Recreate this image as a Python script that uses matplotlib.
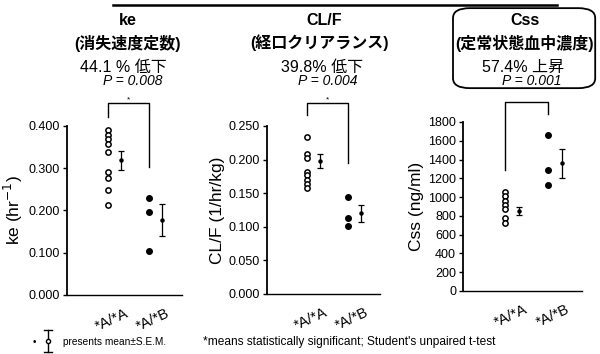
import matplotlib
matplotlib.use("Agg")
import matplotlib.pyplot as plt
from matplotlib.patches import FancyBboxPatch
from matplotlib.lines import Line2D

plt.rcParams['font.family'] = ['Liberation Sans', 'Noto Sans CJK JP', 'DejaVu Sans']

# ---- data ----
groups = ["*A/*A", "*A/*B"]

ke_AA = [0.391, 0.379, 0.369, 0.357, 0.339, 0.292, 0.276, 0.249, 0.213]
ke_AB = [0.230, 0.197, 0.104]
ke_mean = [0.319, 0.177]
ke_sem = [0.022, 0.038]

cl_AA = [0.234, 0.209, 0.202, 0.182, 0.177, 0.170, 0.163, 0.158]
cl_AB = [0.144, 0.113, 0.101]
cl_mean = [0.198, 0.120]
cl_sem = [0.011, 0.013]

css_AA = [1058, 1012, 961, 916, 870, 774, 721]
css_AB = [1658, 1291, 1131]
css_mean = [852, 1358]
css_sem = [45, 158]

titles = ["ke", "CL/F", "Css"]
subtitles = ["(消失速度定数)", "(経口クリアランス)", "(定常状態血中濃度)"]
changes = ["44.1 % 低下", "39.8% 低下", "57.4% 上昇"]
pvals = ["P = 0.008", "P = 0.004", "P = 0.001"]
ylabels = ["ke (hr$^{-1}$)", "CL/F (1/hr/kg)", "Css (ng/ml)"]
yticks = [[0.0, 0.1, 0.2, 0.3, 0.4],
          [0.0, 0.05, 0.10, 0.15, 0.20, 0.25],
          [0, 200, 400, 600, 800, 1000, 1200, 1400, 1600, 1800]]
yfmt = ["{:.3f}", "{:.3f}", "{:d}"]
# significance bracket: top, left-leg end, right-leg end (data units)
brackets = [(0.454, 0.421, 0.303), (0.284, 0.266, 0.195), (2013, 1289, 1885)]

panels = [(ke_AA, ke_AB, ke_mean, ke_sem),
          (cl_AA, cl_AB, cl_mean, cl_sem),
          (css_AA, css_AB, css_mean, css_sem)]

# ---- layout ----
fig = plt.figure(figsize=(6.0, 3.54), dpi=100)
ax_rects = [(0.1117, 0.1667, 0.1916, 0.4774),
            (0.4450, 0.1695, 0.1883, 0.4746),
            (0.7717, 0.1780, 0.1983, 0.4774)]
title_x = [0.213, 0.540, 0.875]
sub_x = [0.213, 0.532, 0.875]
chg_x = [0.205, 0.537, 0.872]
p_x = [0.222, 0.547, 0.887]
pos = [1.07, 2.14]
moff = 0.35

for i, (aa, ab, mean, sem) in enumerate(panels):
    ax = fig.add_axes(ax_rects[i])
    ax.plot([pos[0]] * len(aa), aa, 'o', mfc='white', mec='black', ms=3.8, mew=1.1, clip_on=False)
    ax.plot([pos[1]] * len(ab), ab, 'o', mfc='black', mec='black', ms=4.0, clip_on=False)
    ax.errorbar([pos[0] + moff, pos[1] + moff], mean, yerr=sem, fmt='o', color='black',
                ms=2.2, capsize=2.5, elinewidth=0.9, capthick=0.9, clip_on=False)
    ax.set_xlim(0, 3)
    ax.set_ylim(yticks[i][0], yticks[i][-1])
    ax.set_yticks(yticks[i])
    ax.set_yticklabels([yfmt[i].format(v) for v in yticks[i]], fontsize=9)
    ax.set_xticks([pos[0] + 0.45, pos[1] + 0.45])
    ax.set_xticklabels(groups, rotation=25, ha='right', rotation_mode='anchor', fontsize=10.5)
    ax.tick_params(axis='x', length=0, pad=8)
    ax.tick_params(axis='y', length=3, width=1.0, pad=2)
    for s in ['top', 'right']:
        ax.spines[s].set_visible(False)
    ax.spines['left'].set_linewidth(1.3)
    ax.spines['bottom'].set_linewidth(1.0)
    ax.set_ylabel(ylabels[i], fontsize=12.5, labelpad=3)
    # bracket
    top, lft, rgt = brackets[i]
    ax.plot([pos[0], pos[0], pos[1], pos[1]], [lft, top, top, rgt], color='black', lw=1.0, clip_on=False)
    if i < 2:
        ax.text((pos[0] + pos[1]) / 2, top, "*", ha='center', va='bottom', fontsize=6, clip_on=False)

    # titles
    fig.text(title_x[i], 0.9407, titles[i], ha='center', va='center', fontsize=11.5, fontweight='bold')
    fig.text(sub_x[i], 0.8785, subtitles[i], ha='center', va='center', fontsize=11.5, fontweight='bold')
    fig.text(chg_x[i], 0.8107, changes[i], ha='center', va='center', fontsize=11.5)
    fig.text(p_x[i], 0.7710, pvals[i], ha='center', va='center', fontsize=10, style='italic')

# box around Css title
box = FancyBboxPatch((0.755, 0.751), 0.237, 0.226, boxstyle="round,pad=0,rounding_size=0.028",
                     transform=fig.transFigure, fill=False, ec='black', lw=1.3)
fig.patches.append(box)

# top rule
fig.add_artist(Line2D([0.188, 0.928], [0.986, 0.986], color='black', lw=1.8, transform=fig.transFigure))

# legend notes
fig.text(0.058, 0.034, "•", ha='center', va='center', fontsize=7)
fig.add_artist(Line2D([0.080, 0.080], [0.006, 0.068], color='black', lw=1.0, transform=fig.transFigure))
fig.add_artist(Line2D([0.074, 0.086], [0.068, 0.068], color='black', lw=1.0, transform=fig.transFigure))
fig.add_artist(Line2D([0.074, 0.086], [0.006, 0.006], color='black', lw=1.0, transform=fig.transFigure))
fig.add_artist(Line2D([0.080], [0.037], marker='o', ms=3, mfc='white', mec='black', transform=fig.transFigure))
fig.text(0.105, 0.034, "presents mean±S.E.M.", ha='left', va='center', fontsize=7.3)
fig.text(0.338, 0.034, "*means statistically significant; Student's unpaired t-test",
         ha='left', va='center', fontsize=8.6)

fig.savefig("out.png", dpi=100)
